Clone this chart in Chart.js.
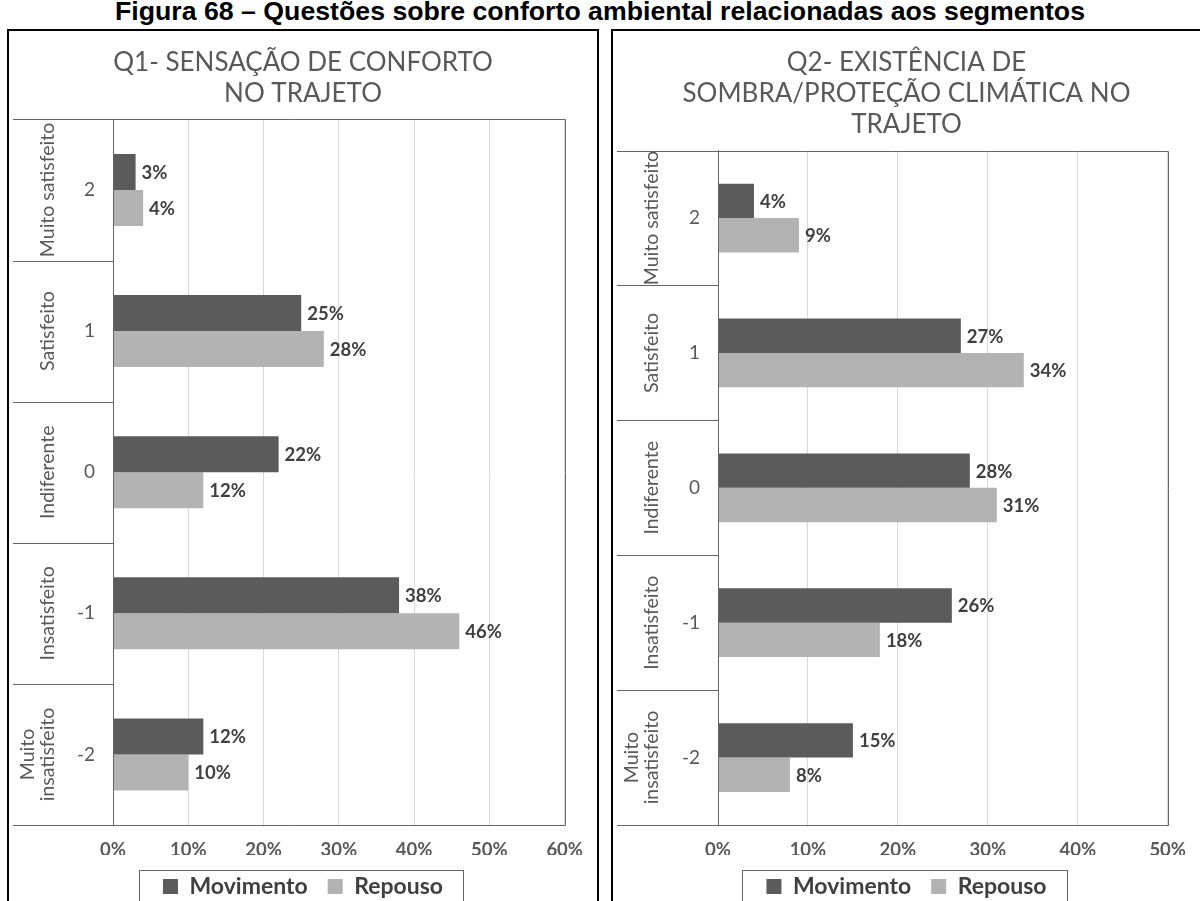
<!DOCTYPE html>
<html lang="pt-BR">
<head>
<meta charset="utf-8">
<title>Figura 68</title>
<script src="https://cdn.jsdelivr.net/npm/chart.js@4.4.1/dist/chart.umd.min.js"></script>
<style>
  html, body { margin: 0; padding: 0; background: #fff; overflow: hidden; }
  body { width: 1200px; height: 901px; position: relative; }
  #titulo {
    position: absolute; left: 0; top: -2px; width: 1200px;
    text-align: center; white-space: nowrap; color: #000;
    font: bold 26.7px "Liberation Sans", Arial, sans-serif; line-height: 26px;
  }
  .painel { position: absolute; top: 29px; border: 2px solid #000; background: #fff; }
  #painel-q1 { left: 7px; width: 588px; height: 890px; }
  #painel-q2 { left: 611px; width: 590px; height: 890px; }
  .painel canvas { display: block; }
</style>
</head>
<body>
<div id="titulo">Figura 68 – Questões sobre conforto ambiental relacionadas aos segmentos</div>
<div class="painel" id="painel-q1"><canvas id="grafico-q1" width="588" height="877"></canvas></div>
<div class="painel" id="painel-q2"><canvas id="grafico-q2" width="587" height="877"></canvas></div>

<script>
// escala de satisfação (de cima para baixo)
const escala = ['2', '1', '0', '-1', '-2'];
const categorias = ['Muito satisfeito', 'Satisfeito', 'Indiferente', 'Insatisfeito', ['Muito', 'insatisfeito']];

// Q1 - sensação de conforto (%)
const q1Titulo = ['Q1- SENSAÇÃO DE CONFORTO', 'NO TRAJETO'];
const q1Movimento = [3, 25, 22, 38, 12];
const q1Repouso = [4, 28, 12, 46, 10];
const q1Maximo = 60;

// Q2 - sombra / proteção climática (%)
const q2Titulo = ['Q2- EXISTÊNCIA DE', 'SOMBRA/PROTEÇÃO CLIMÁTICA NO', 'TRAJETO'];
const q2Movimento = [4, 27, 28, 26, 15];
const q2Repouso = [9, 34, 31, 18, 8];
const q2Maximo = 50;

const corMovimento = '#5b5b5b';
const corRepouso = '#b3b3b3';
const corTexto = '#595959';
const corLinha = '#666666';

Chart.defaults.font.family = 'Lato, "Open Sans", sans-serif';
Chart.defaults.color = corTexto;

// linhas da coluna de categorias + rótulos verticais
const colunaCategorias = {
  id: 'colunaCategorias',
  afterDraw(chart) {
    const { ctx, chartArea: a, scales: { y } } = chart;
    const x0 = 4;
    const topo = Math.round(a.top) + 0.5;
    const base = Math.round(a.bottom) + 0.5;
    const esq = Math.round(a.left) + 0.5;
    const dir = Math.round(a.right) + 0.5;
    ctx.save();
    ctx.strokeStyle = corLinha;
    ctx.lineWidth = 1;
    ctx.beginPath();
    ctx.moveTo(x0, topo); ctx.lineTo(dir, topo);
    ctx.moveTo(x0, base); ctx.lineTo(dir, base);
    ctx.moveTo(dir, topo); ctx.lineTo(dir, base);
    ctx.moveTo(esq, topo); ctx.lineTo(esq, base);
    for (let i = 0; i < categorias.length - 1; i++) {
      const yy = Math.round((y.getPixelForValue(i) + y.getPixelForValue(i + 1)) / 2) + 0.5;
      ctx.moveTo(x0, yy); ctx.lineTo(esq, yy);
    }
    ctx.stroke();

    ctx.fillStyle = corTexto;
    ctx.font = '19.5px Lato';
    ctx.textAlign = 'center';
    ctx.textBaseline = 'middle';
    categorias.forEach((nome, i) => {
      const linhas = Array.isArray(nome) ? nome : [nome];
      const cy = y.getPixelForValue(i);
      linhas.forEach((txt, j) => {
        const cx = 39 - (linhas.length - 1 - j) * 20;
        ctx.save();
        ctx.translate(cx, cy);
        ctx.rotate(-Math.PI / 2);
        ctx.fillText(txt, 0, 0);
        ctx.restore();
      });
    });
    ctx.restore();
  }
};

// valor em % no fim de cada barra
const rotulosValores = {
  id: 'rotulosValores',
  afterDatasetsDraw(chart) {
    const { ctx } = chart;
    ctx.save();
    ctx.font = 'bold 18.5px Lato';
    ctx.fillStyle = '#404040';
    ctx.textAlign = 'left';
    ctx.textBaseline = 'middle';
    chart.data.datasets.forEach((ds, i) => {
      chart.getDatasetMeta(i).data.forEach((barra, j) => {
        ctx.fillText(ds.data[j] + '%', barra.x + 6, barra.y + 1);
      });
    });
    ctx.restore();
  }
};

// moldura em volta da legenda
const caixaLegenda = {
  id: 'caixaLegenda',
  afterDraw(chart) {
    const lg = chart.legend;
    if (!lg || !lg.legendHitBoxes || !lg.legendHitBoxes.length) return;
    const caixas = lg.legendHitBoxes;
    const esq = Math.round(Math.min(...caixas.map(c => c.left)) - 24) + 0.5;
    const dir = Math.round(Math.max(...caixas.map(c => c.left + c.width)) + 20) + 0.5;
    const topo = Math.round(lg.top + 15) + 0.5;
    const { ctx } = chart;
    ctx.save();
    ctx.strokeStyle = corLinha;
    ctx.lineWidth = 1;
    ctx.strokeRect(esq, topo, dir - esq, 80);
    ctx.restore();
  }
};

function criarGrafico(id, titulo, movimento, repouso, maximo, lado, larguraEixo) {
  const ctx = document.getElementById(id).getContext('2d');
  return new Chart(ctx, {
    type: 'bar',
    data: {
      labels: escala,
      datasets: [
        { label: 'Movimento', data: movimento, backgroundColor: corMovimento, borderWidth: 0 },
        { label: 'Repouso', data: repouso, backgroundColor: corRepouso, borderWidth: 0 }
      ]
    },
    options: {
      indexAxis: 'y',
      responsive: false,
      animation: false,
      categoryPercentage: 0.51,
      barPercentage: 1,
      layout: { padding: { left: lado, right: lado, top: 0, bottom: 0 } },
      plugins: {
        title: {
          display: true,
          text: titulo,
          color: corTexto,
          font: { size: 26, weight: 'normal', lineHeight: 1.2 },
          padding: { top: 16, bottom: 10 }
        },
        legend: {
          position: 'bottom',
          labels: {
            color: '#404040',
            font: { size: 23, weight: 'bold' },
            boxWidth: 15,
            boxHeight: 15,
            padding: 20
          }
        },
        tooltip: { enabled: false }
      },
      scales: {
        x: {
          min: 0,
          max: maximo,
          ticks: {
            stepSize: 10,
            padding: 14,
            color: corTexto,
            font: { size: 18.5, weight: 'bold' },
            callback: v => v + '%'
          },
          grid: { color: '#d9d9d9', drawTicks: false },
          border: { display: false },
          afterFit: s => { s.height = 30; }
        },
        y: {
          ticks: { padding: 18, color: corTexto, font: { size: 19 } },
          grid: { display: false, drawTicks: false },
          border: { display: true, color: corLinha },
          afterFit: s => { s.width = larguraEixo; }
        }
      }
    },
    plugins: [colunaCategorias, rotulosValores, caixaLegenda]
  });
}

criarGrafico('grafico-q1', q1Titulo, q1Movimento, q1Repouso, q1Maximo, 31, 73);
criarGrafico('grafico-q2', q2Titulo, q2Movimento, q2Repouso, q2Maximo, 28, 77);
</script>
</body>
</html>
